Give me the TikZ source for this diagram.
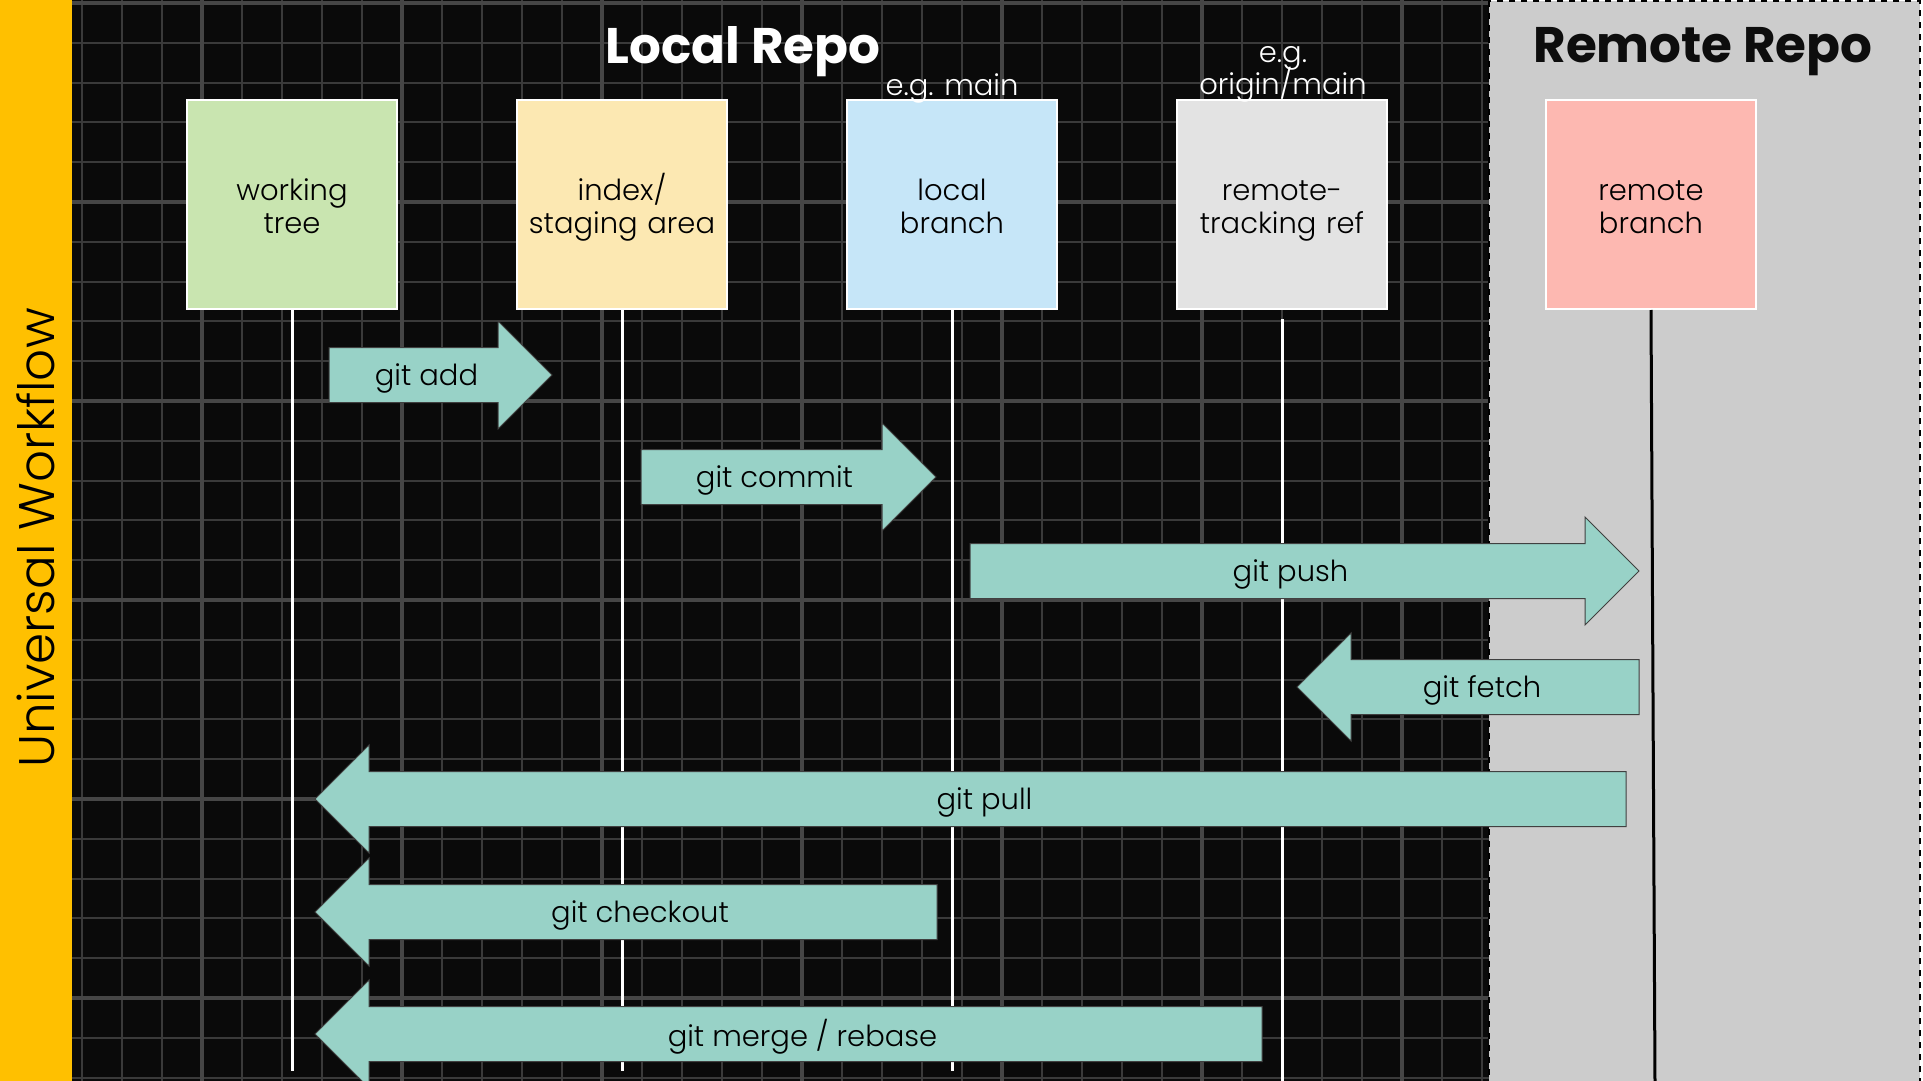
\documentclass[tikz,border=0pt]{standalone}
\usepackage{fontspec}
\IfFontExistsTF{Poppins Light}{\setmainfont{Poppins Light}}{\setmainfont{Poppins}}
\newfontfamily\headfont{Poppins}
\usetikzlibrary{positioning}

\definecolor{canvas}{HTML}{0A0A0A}
\definecolor{gridminor}{HTML}{3A3A3A}
\definecolor{gridmajor}{HTML}{464646}
\definecolor{bandgold}{HTML}{FFC000}
\definecolor{remotegray}{HTML}{CCCCCC}
\definecolor{wtgreen}{HTML}{C9E5B0}
\definecolor{idxyellow}{HTML}{FCE8B2}
\definecolor{lbblue}{HTML}{C6E6F8}
\definecolor{rtgray}{HTML}{E3E3E3}
\definecolor{rbpink}{HTML}{FDB8B1}
\definecolor{flowteal}{HTML}{98D2C7}

\newcommand{\tightlines}{\lineskiplimit=-20pt\relax}
\newcommand{\topstrut}{\rule{0pt}{17.5pt}}

\tikzset{
  stage/.style={draw=white, line width=1pt, minimum width=105pt, minimum height=104.5pt,
    text width=100pt, inner sep=0pt, align=center, font=\fontsize{14.5}{16.5}\selectfont,
    execute at begin node=\topstrut, execute at end node=\strut},
  note/.style={text=white, align=center, inner sep=0pt,
    font={\fontsize{14.5}{16}\selectfont\tightlines},
    execute at begin node=\strut, execute at end node=\strut},
  title/.style={inner sep=0pt, font=\headfont\bfseries\fontsize{25}{29}\selectfont},
  life/.style={white, line width=1.5pt},
  flow/.style={fill=flowteal, draw=black!75, line width=0.5pt},
  flowtext/.style={inner sep=0pt, font=\fontsize{14.5}{16.5}\selectfont}
}

% block arrow: name, tail x, tip x, y, label
\newcommand{\gitflow}[5]{%
  \pgfmathsetmacro{\hb}{#3-54*sign(#3-#2)}%
  \pgfmathsetmacro{\tx}{(#2+\hb)/2+13*sign(#3-#2)}%
  \draw[flow] (#2,#4-27.5) -- (\hb,#4-27.5) -- (\hb,#4-54) -- (#3,#4)
    -- (\hb,#4+54) -- (\hb,#4+27.5) -- (#2,#4+27.5) -- cycle;
  \node[flowtext] (#1) at (\tx,#4+3) {#5};}

\begin{document}
\begin{tikzpicture}[x=0.5pt, y=-0.5pt, node distance=165pt, on grid]
  \useasboundingbox (0,0) rectangle (1923,1081);

  % background and grid
  \fill[bandgold] (0,0) rectangle (72,1081);
  \fill[canvas] (72,0) rectangle (1489,1081);
  \foreach \gx in {82,122,...,1482}
    \draw[gridminor, line width=1pt] (\gx,0) -- (\gx,1081);
  \foreach \k in {1,...,27}
    \draw[gridminor, line width=1pt] (72,{3+39.8*\k}) -- (1489,{3+39.8*\k});
  \foreach \gx in {202,402,...,1402}
    \draw[gridmajor, line width=2.4pt] (\gx,0) -- (\gx,1081);
  \foreach \k in {0,...,5}
    \draw[gridmajor, line width=2.4pt] (72,{3+199*\k}) -- (1489,{3+199*\k});
  \draw[fill=remotegray, dashed, line width=1pt] (1489,1) rectangle (1920,1083);

  \node[title, text=white] (localrepo) at (743,52) {Local Repo};
  \node[title, text=black!95] (remoterepo) at (1703,52) {Remote Repo};
  \node[rotate=90, inner sep=0pt, font=\fontsize{25}{28}\selectfont] (workflow) at (36,538) {Universal Workflow};

  % stages
  \node[stage, fill=wtgreen] (wtree) at (292,204.5) {working\\tree};
  \node[stage, fill=idxyellow] (index) [right=of wtree] {index/\\staging area};
  \node[stage, fill=lbblue] (lbranch) [right=of index] {local\\branch};
  \node[stage, fill=rtgray] (rtref) [right=of lbranch] {remote-\\tracking ref};
  \node[stage, fill=rbpink] (rbranch) [right=184.5pt of rtref] {remote\\branch};

  \node[note] (lbnote) at (952,89) {e.g. main};
  \node[note] (rtnote) at (1283,75) {e.g.\\origin/main};

  % lifelines
  \draw[life] (wtree.south) -- ++(0,761);
  \draw[life] (index.south) -- ++(0,761);
  \draw[life] (lbranch.south) -- ++(0,761);
  \draw[life, shorten <=4.5pt] (rtref.south) -- ++(0,772);
  \draw[black, line width=1.5pt] (rbranch.south) -- ++(4,772);

  % commands
  \gitflow{add}{329}{552}{375}{git add}
  \gitflow{commit}{641}{936}{477}{git commit}
  \gitflow{push}{970}{1639}{571}{git push}
  \gitflow{fetch}{1639}{1297}{687}{git fetch}
  \gitflow{pull}{1626}{315}{799}{git pull}
  \gitflow{checkout}{937}{315}{912}{git checkout}
  \gitflow{merge}{1262}{315}{1034}{git merge / rebase}
\end{tikzpicture}
\end{document}
